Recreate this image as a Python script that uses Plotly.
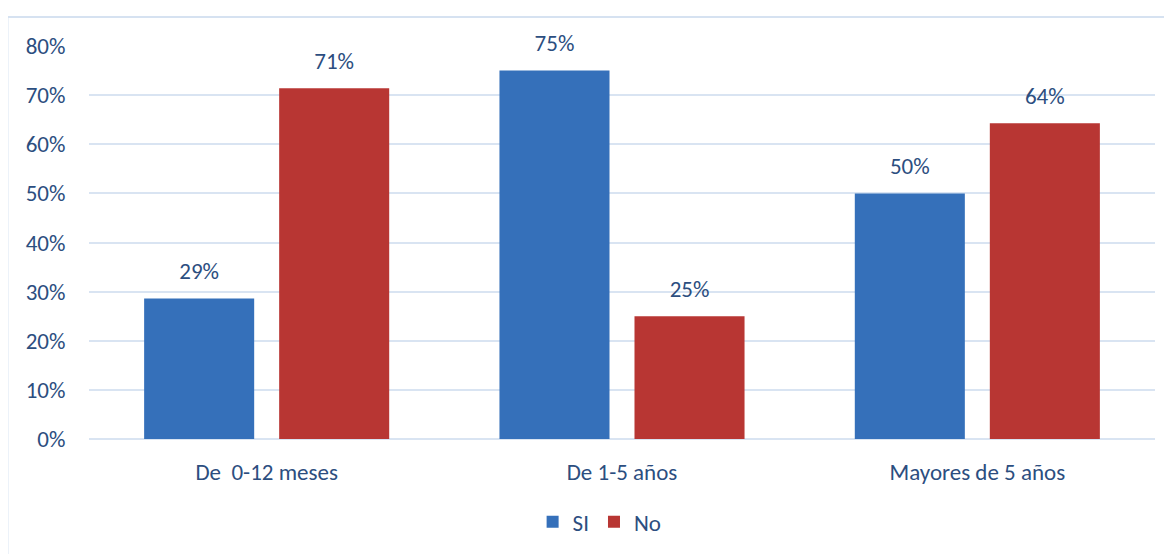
import plotly.graph_objects as go

categories = ["De\u00a0 0-12 meses", "De 1-5 años", "Mayores de 5 años"]
si_values = [0.286, 0.75, 0.50]
no_values = [0.714, 0.25, 0.643]
si_labels = ["29%", "75%", "50%"]
no_labels = ["71%", "25%", "64%"]
y_ticks = [0, 0.1, 0.2, 0.3, 0.4, 0.5, 0.6, 0.7, 0.8]
y_tick_labels = ["0%", "10%", "20%", "30%", "40%", "50%", "60%", "70%", "80%"]

text_color = "#2C4E7F"
font_family = "Carlito, Calibri, Lato, sans-serif"
fs = 23

fig = go.Figure()
fig.add_trace(go.Bar(
    name="SI", x=categories, y=si_values, offsetgroup="si",
    marker=dict(color="#3570BA", line=dict(width=0)),
))
fig.add_trace(go.Bar(
    name="No", x=categories, y=no_values, offsetgroup="no",
    marker=dict(color="#B83633", line=dict(width=0)),
))
# value labels
fig.add_trace(go.Scatter(
    x=categories, y=si_values, text=si_labels, offsetgroup="si",
    mode="markers+text", textposition="top center", cliponaxis=False,
    marker=dict(size=20, color="rgba(0,0,0,0)"),
    textfont=dict(color=text_color, size=fs), showlegend=False, hoverinfo="skip",
))
fig.add_trace(go.Scatter(
    x=categories, y=no_values, text=no_labels, offsetgroup="no",
    mode="markers+text", textposition="top center", cliponaxis=False,
    marker=dict(size=20, color="rgba(0,0,0,0)"),
    textfont=dict(color=text_color, size=fs), showlegend=False, hoverinfo="skip",
))

fig.update_layout(
    width=1172, height=554,
    margin=dict(l=81, r=25, t=38, b=123, autoexpand=False),
    paper_bgcolor="white", plot_bgcolor="white",
    barmode="group", bargap=0.24, bargroupgap=0.185,
    scattermode="group", scattergap=0.24,
    font=dict(family=font_family, color=text_color, size=fs),
    showlegend=True,
    legend=dict(orientation="h", x=0.479, xanchor="center", y=-0.211, yanchor="middle",
                font=dict(size=23, color=text_color), itemwidth=30,
                traceorder="normal"),
    shapes=[dict(type="rect", xref="paper", yref="paper",
                 x0=-0.0765, x1=1.2, y0=-0.6, y1=1.074,
                 line=dict(color="#D6E2F1", width=2), fillcolor="rgba(0,0,0,0)",
                 layer="below")],
)
fig.update_xaxes(
    showgrid=False, showline=False, zeroline=False,
    ticks="outside", ticklen=12, tickcolor="rgba(0,0,0,0)",
    tickfont=dict(size=fs, color=text_color),
)
fig.update_yaxes(
    range=[0, 0.8], tickvals=y_ticks, ticktext=y_tick_labels,
    showgrid=True, gridcolor="#D9E4F2", gridwidth=2,
    zeroline=True, zerolinecolor="#D9E4F2", zerolinewidth=2,
    showline=False, ticks="outside", ticklen=18, tickcolor="rgba(0,0,0,0)",
    tickfont=dict(size=fs, color=text_color),
)

fig.write_html("out.html")
